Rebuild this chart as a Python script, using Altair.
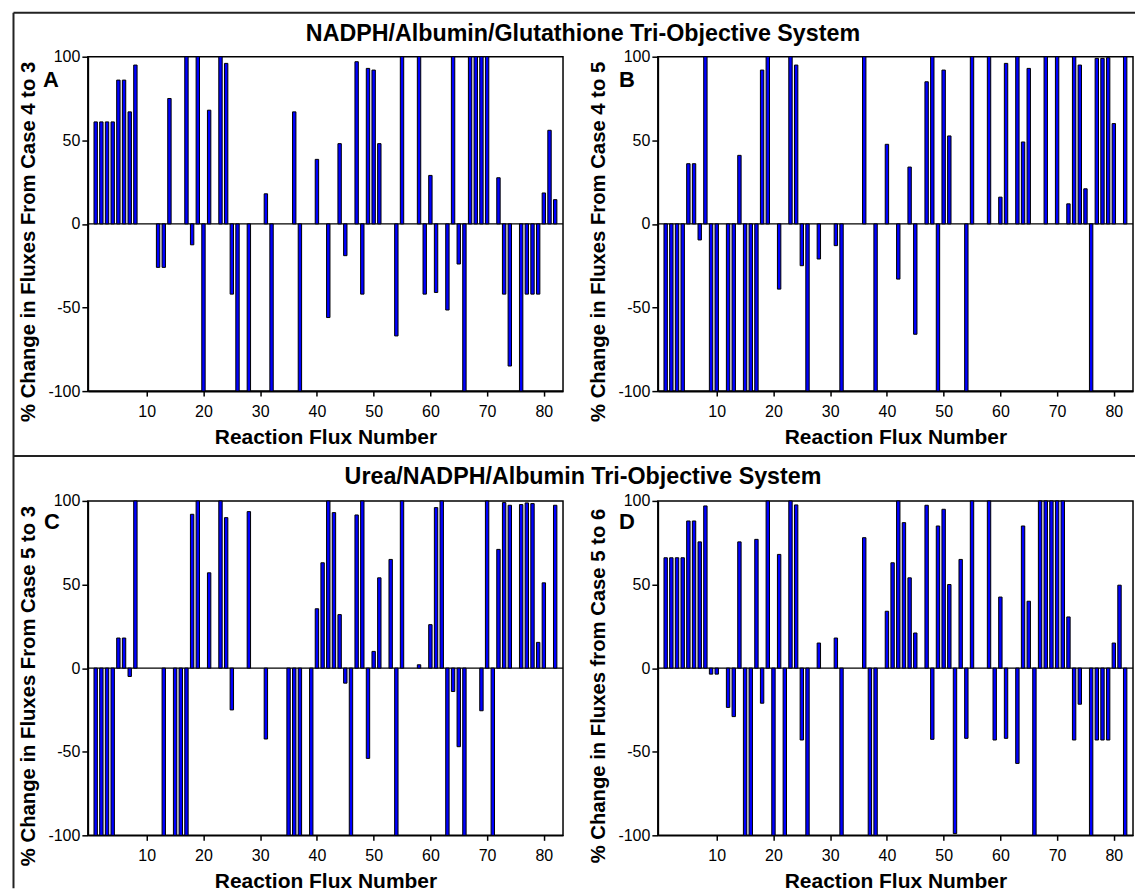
import altair as alt
import pandas as pd

reactions = list(range(1, 83))

panel_a = [61, 61, 61, 61, 86, 86, 67, 95, 0, 0,
           0, -26, -26, 75, 0, 0, 100, -12.5, 100, -100,
           68, 0, 100, 96, -42, -100, 0, -100, 0, 0,
           18, -100, 0, 0, 0, 67, -100, 0, 0, 38.6,
           0, -56, 0, 48, -19, 0, 97, -42, 93, 92,
           48, 0, 0, -67, 100, 0, 0, 100, -42, 29,
           -41, 0, -51.5, 100, -24, -100, 100, 100, 100, 100,
           0, 27.6, -42, -85, 0, -100, -42, -42, -42, 18.5,
           56, 14.5]

panel_b = [-100, -100, -100, -100, 36, 36, -9.6, 100, -100, -100,
           0, -100, -100, 41, -100, -100, -100, 92, 100, 0,
           -39, 0, 100, 95, -25, -100, 0, -21, 0, 0,
           -13, -100, 0, 0, 0, 100, 0, -100, 0, 47.6,
           0, -33, 0, 34, -66, 0, 85, 100, -100, 92,
           52.6, 0, 0, -100, 100, 0, 0, 100, 0, 16,
           96, 0, 100, 49, 93, 0, 0, 100, 0, 100,
           0, 12, 100, 95, 21, -100, 99, 99, 99.4, 60,
           0, 100]

panel_c = [-100, -100, -100, -100, 18, 18, -5, 100, 0, 0,
           0, 0, -100, 0, -100, -100, -100, 92, 100, 0,
           57, 0, 100, 90, -25, 0, 0, 93.6, 0, 0,
           -42.4, 0, 0, 0, -100, -100, -100, 0, -100, 35.5,
           63, 100, 93, 32, -9, -100, 91.6, 100, -54, 10,
           54, 0, 65, -100, 100, 0, 0, 2, 0, 26,
           96, 100, -100, -14, -47, -100, 0, 0, -25.5, 100,
           -100, 71, 99, 97.4, 0, 97.8, 98.8, 98.4, 15.4, 51,
           0, 97.4]

panel_d = [66, 66, 66, 66, 88, 88, 75.5, 97, -3.6, -3.6,
           0, -23.5, -29, 75.5, -100, -100, 77, -21, 100, -100,
           68, -100, 100, 97.6, -43, -100, 0, 15, 0, 0,
           18, -100, 0, 0, 0, 78, -100, -100, 0, 34,
           63, 100, 87, 54, 21, 0, 97.4, -42.6, 85, 95,
           50, -99, 65, -42, 100, 0, 0, 100, -43, 42.5,
           -42, 0, -57, 85, 40, -100, 100, 100, 100, 100,
           100, 30.6, -43, -21.6, 0, -100, -43, -43, -43, 15,
           49.6, -100]

x_ticks = [10, 20, 30, 40, 50, 60, 70, 80]
y_ticks = [-100, -50, 0, 50, 100]

top_title = "NADPH/Albumin/Glutathione Tri-Objective System"
bottom_title = "Urea/NADPH/Albumin Tri-Objective System"
y_titles = ["% Change in Fluxes From Case 4 to 3",
            "% Change in Fluxes From Case 4 to 5",
            "% Change in Fluxes From Case 5 to 3",
            "% Change in Fluxes from Case 5 to 6"]
x_title = "Reaction Flux Number"
letters = ["A", "B", "C", "D"]

FONT = "Liberation Sans"
W, H = 476, 335
GAP_X, GAP_Y = 95, 110
one = alt.Data(values=[{"k": 1}])


def frame_rule(**enc):
    return alt.Chart(one).mark_rule(color="#222", strokeWidth=2).encode(**enc)


def text_mark(text, size, x, y, align):
    return alt.Chart(one).mark_text(
        text=text, font=FONT, fontSize=size, fontWeight="bold",
        align=align, baseline="alphabetic", color="#000"
    ).encode(x=alt.value(x), y=alt.value(y))


def panel(values, ytitle, letter, letter_x, letter_y, extras=()):
    df = pd.DataFrame({"n": reactions, "v": values})
    bars = alt.Chart(df).transform_filter("datum.v != 0").mark_bar(
        size=3.4, fill="#0000ff", stroke="#000", strokeWidth=1
    ).encode(
        x=alt.X("n:Q",
                scale=alt.Scale(domain=[0.5, 82.5], nice=False, zero=False),
                axis=alt.Axis(values=x_ticks, title=x_title, titleY=52,
                              titleFontSize=21,
                              titleBaseline="alphabetic", tickSize=5, labelPadding=7)),
        y=alt.Y("v:Q",
                scale=alt.Scale(domain=[-100, 100], nice=False),
                axis=alt.Axis(values=y_ticks, title=ytitle, titleX=-53.5, titleY=185,
                              titleFontSize=20.3, labelExpr="'' + datum.value",
                              titleAngle=270, titleBaseline="alphabetic",
                              titleAlign="center", tickSize=6, labelPadding=2)),
        y2=alt.Y2(datum=0),
    )
    zero = alt.Chart(one).mark_rule(color="#000", strokeWidth=1.3).encode(
        y=alt.Y(datum=0, type="quantitative")
    )
    lab = text_mark(letter, 22, letter_x, letter_y, "left")
    return alt.layer(zero, bars, lab, *extras).properties(width=W, height=H)


LEFT = -74.5
RIGHT = W + GAP_X + W + 2
title_cx = 496

extras_a = [
    frame_rule(x=alt.value(LEFT), x2=alt.value(RIGHT), y=alt.value(-44)),
    frame_rule(x=alt.value(LEFT), y=alt.value(-44), y2=alt.value(400)),
    frame_rule(x=alt.value(LEFT), x2=alt.value(RIGHT), y=alt.value(400)),
    text_mark(top_title, 23.3, title_cx, -16, "center"),
]
extras_c = [
    frame_rule(x=alt.value(LEFT), y=alt.value(-45), y2=alt.value(388)),
    text_mark(bottom_title, 23.3, title_cx, -17, "center"),
]

pa = panel(panel_a, y_titles[0], letters[0], -45, 30, extras_a)
pb = panel(panel_b, y_titles[1], letters[1], -39, 30)
pc = panel(panel_c, y_titles[2], letters[2], -44, 28, extras_c)
pd_ = panel(panel_d, y_titles[3], letters[3], -39, 28)

chart = alt.concat(
    pa, pb, pc, pd_, columns=2,
    spacing={"row": GAP_Y, "column": GAP_X}, bounds="flush"
).properties(
    padding={"left": 3, "top": 2, "right": 0, "bottom": 0},
    background="white",
).configure_view(
    stroke="#000", strokeWidth=1.5
).configure_axis(
    grid=False, domainColor="#000", domainWidth=1.6, tickColor="#000", tickWidth=1.5,
    labelFont=FONT, labelFontSize=16, labelColor="#000",
    titleFont=FONT, titleFontWeight="bold", titleColor="#000",
)

chart.save("out.html", embed_options={"renderer": "svg", "actions": False})
